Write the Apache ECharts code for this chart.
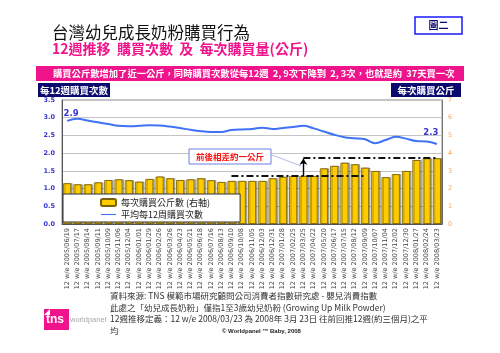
<!DOCTYPE html>
<html>
<head>
<meta charset="utf-8">
<script src="https://cdn.jsdelivr.net/npm/echarts@6/dist/echarts.min.js"></script>
<style>
  html, body { margin: 0; padding: 0; background: #fff; }
  #chart { width: 500px; height: 353px; }
</style>
</head>
<body>
<div id="chart"></div>
<script>
// 12週推移 期間
const categories = [
  '2005/06/19', '2005/07/17', '2005/08/14', '2005/09/11', '2005/10/09', '2005/11/06', '2005/12/04',
  '2006/01/01', '2006/01/29', '2006/02/26', '2006/03/26', '2006/04/23', '2006/05/21', '2006/06/18',
  '2006/07/16', '2006/08/13', '2006/09/10', '2006/10/08', '2006/11/05', '2006/12/03', '2006/12/31',
  '2007/01/28', '2007/02/25', '2007/03/25', '2007/04/22', '2007/05/20', '2007/06/17', '2007/07/15',
  '2007/08/12', '2007/09/09', '2007/10/07', '2007/11/04', '2007/12/02', '2007/12/30', '2008/01/27',
  '2008/02/24', '2008/03/23'
].map(d => '12 w/e ' + d);

// 每次購買公斤數 (右軸)
const kgPerTrip = [
  2.30, 2.24, 2.24, 2.35, 2.48, 2.52, 2.47, 2.39, 2.54, 2.68, 2.58, 2.48, 2.52,
  2.58, 2.47, 2.37, 2.43, 2.43, 2.43, 2.43, 2.58, 2.66, 2.71, 2.71, 2.71, 3.14,
  3.28, 3.46, 3.37, 3.18, 2.99, 2.64, 2.81, 2.99, 3.61, 3.71, 3.71
];

// 平均每12周購買次數 (左軸)
const tripsPer12w = [
  2.91, 2.97, 2.92, 2.87, 2.82, 2.77, 2.76, 2.77, 2.79, 2.78, 2.75, 2.71, 2.66,
  2.62, 2.60, 2.60, 2.65, 2.67, 2.68, 2.72, 2.68, 2.71, 2.74, 2.77, 2.70, 2.61,
  2.52, 2.45, 2.42, 2.39, 2.28, 2.37, 2.46, 2.41, 2.34, 2.33, 2.26
];

const leftTicks = { min: 0, max: 3.5, interval: 0.5 };
const rightTicks = { min: 0, max: 7, interval: 1 };

// 前後平均公斤數
const kgBefore = 2.71;
const kgAfter = 3.74;

const CJK = '"Noto Sans CJK TC", "Noto Sans CJK SC", sans-serif';
const MAGENTA = '#f0148c';
const NAVY = '#0a0a6e';
const LINE_BLUE = '#3f72f5';

const lastIdx = tripsPer12w.length - 1;
const arrowStyle = { type: 'solid', width: 1.4, color: '#000' };

const chart = echarts.init(document.getElementById('chart'));

const option = {
  animation: false,
  textStyle: { fontFamily: CJK },
  grid: { left: 62, right: 58, top: 100, height: 124, show: true, borderColor: '#888', borderWidth: 1, backgroundColor: '#fff' },
  legend: {
    orient: 'vertical',
    left: 63,
    top: 194,
    padding: [4, 30, 3, 37],
    itemGap: 3,
    itemWidth: 15,
    itemHeight: 7,
    backgroundColor: '#fff',
    borderColor: '#333',
    borderWidth: 1,
    textStyle: { fontSize: 9, color: '#222', fontFamily: CJK },
    data: [
      { name: '每次購買公斤數 (右軸)' },
      { name: '平均每12周購買次數', icon: 'path://M0,0L40,0L40,3L0,3Z', itemStyle: { color: LINE_BLUE } }
    ]
  },
  xAxis: {
    type: 'category',
    data: categories,
    axisLine: { lineStyle: { color: '#555' } },
    axisTick: { show: false },
    axisLabel: { interval: 0, rotate: 90, fontSize: 6.5, color: '#444', margin: 4, fontFamily: 'DejaVu Sans' }
  },
  yAxis: [
    {
      type: 'value', ...leftTicks,
      axisLine: { show: true, lineStyle: { color: '#555' } },
      axisTick: { show: false },
      splitLine: { lineStyle: { color: '#c4c4c4' } },
      axisLabel: { fontSize: 6.5, fontWeight: 'bold', color: '#3535d0', margin: 7, formatter: v => v.toFixed(1), fontFamily: 'DejaVu Sans' }
    },
    {
      type: 'value', ...rightTicks,
      axisLine: { show: true, lineStyle: { color: '#777' } },
      axisTick: { show: false },
      splitLine: { show: false },
      axisLabel: { fontSize: 6.5, color: '#f5a860', margin: 6, fontFamily: 'DejaVu Sans' }
    }
  ],
  series: [
    {
      name: '每次購買公斤數 (右軸)',
      type: 'bar',
      yAxisIndex: 1,
      data: kgPerTrip,
      barWidth: '78%',
      itemStyle: { color: '#ffcc00', borderColor: '#7a6200', borderWidth: 0.8, shadowColor: 'rgba(0,0,0,0.3)', shadowOffsetX: 1.5 },
      markLine: {
        silent: true,
        symbol: 'none',
        label: { show: false },
        lineStyle: { color: '#111', width: 2, type: [7, 3, 2, 3] },
        data: [
          [{ coord: [16, kgBefore] }, { coord: [29, kgBefore] }],
          [{ coord: [23, kgAfter] }, { coord: [36, kgAfter] }],
          // 前後差距箭頭
          [
            { coord: [23, kgBefore], symbol: 'none', lineStyle: arrowStyle, itemStyle: { color: '#000' } },
            { coord: [23, kgAfter - 0.05], symbol: 'arrow', symbolSize: 6, lineStyle: arrowStyle, itemStyle: { color: '#000' } }
          ]
        ]
      }
    },
    {
      name: '平均每12周購買次數',
      type: 'line',
      yAxisIndex: 0,
      data: tripsPer12w,
      smooth: 0.4,
      symbol: 'none',
      lineStyle: { color: LINE_BLUE, width: 2 },
      itemStyle: { color: LINE_BLUE },
      markPoint: {
        silent: true,
        symbol: 'circle',
        symbolSize: 0,
        label: {
          show: true,
          color: '#3535d0',
          fontSize: 8.5,
          fontWeight: 'bold',
          fontFamily: 'DejaVu Sans',
          formatter: p => p.value.toFixed(1)
        },
        data: [
          { coord: [0, tripsPer12w[0]], value: tripsPer12w[0], label: { position: 'top', distance: 3, offset: [4, 0] } },
          { coord: [lastIdx, tripsPer12w[lastIdx]], value: tripsPer12w[lastIdx], label: { position: 'top', distance: 7, offset: [-6, 0] } }
        ]
      }
    }
  ],
  graphic: [
    { type: 'text', left: 52, top: 24, style: { text: '台灣幼兒成長奶粉購買行為', fill: '#111', font: '16.5px ' + CJK } },
    { type: 'text', left: 52, top: 42, style: { text: '12週推移  購買次數  及  每次購買量(公斤)', fill: MAGENTA, font: 'bold 14px ' + CJK } },
    { type: 'rect', shape: { x: 415, y: 17, width: 47, height: 17 }, style: { fill: '#fff', stroke: '#1a1aff', lineWidth: 1.5 } },
    { type: 'text', x: 438.5, y: 25.5, style: { text: '圖二', fill: NAVY, font: 'bold 10px ' + CJK, align: 'center', verticalAlign: 'middle' } },
    { type: 'rect', shape: { x: 36, y: 66, width: 428, height: 15 }, style: { fill: MAGENTA } },
    { type: 'text', x: 53, y: 73.5, style: { text: '購買公斤數增加了近一公斤，同時購買次數從每12週  2, 9次下降到  2, 3次，也就是約  37天買一次', fill: '#fff', font: 'bold 9.3px ' + CJK, verticalAlign: 'middle' } },
    { type: 'rect', shape: { x: 38, y: 83, width: 72, height: 14 }, style: { fill: NAVY } },
    { type: 'text', x: 74, y: 90, style: { text: '每12週購買次數', fill: '#fff', font: 'bold 9.5px ' + CJK, align: 'center', verticalAlign: 'middle' } },
    { type: 'rect', shape: { x: 391, y: 83, width: 70, height: 14 }, style: { fill: NAVY } },
    { type: 'text', x: 426, y: 90, style: { text: '每次購買公斤', fill: '#fff', font: 'bold 9.5px ' + CJK, align: 'center', verticalAlign: 'middle' } },
    // 註解
    { type: 'line', shape: { x1: 272, y1: 155, x2: 301, y2: 166 }, style: { stroke: '#9aa8e8', lineWidth: 0.8 }, z: 10 },
    { type: 'rect', shape: { x: 189, y: 149, width: 82, height: 15 }, style: { fill: '#fff', stroke: '#6f7fe0', lineWidth: 1 }, z: 10 },
    { type: 'text', x: 230, y: 156.5, style: { text: '前後相差約一公斤', fill: '#ff1010', font: 'bold 8.5px ' + CJK, align: 'center', verticalAlign: 'middle' }, z: 11 },
    // 資料來源
    { type: 'text', x: 110, y: 292, style: { text: '資料來源: TNS 模範市場研究顧問公司消費者指數研究處 - 嬰兒消費指數', fill: '#333', font: '8.5px ' + CJK } },
    { type: 'text', x: 110, y: 303.5, style: { text: '此處之「幼兒成長奶粉」僅指1至3歲幼兒奶粉 (Growing Up Milk Powder)', fill: '#333', font: '8.5px ' + CJK } },
    { type: 'text', x: 110, y: 315, style: { text: '12週推移定義：12 w/e 2008/03/23 為 2008年 3月 23日 往前回推12週(約三個月)之平', fill: '#333', font: '8.5px ' + CJK } },
    { type: 'text', x: 110, y: 326.5, style: { text: '均', fill: '#333', font: '8.5px ' + CJK } },
    { type: 'text', x: 222, y: 328, style: { text: '© Worldpanel ™ Baby, 2008', fill: '#222', font: 'bold 6px "Liberation Sans", sans-serif' } },
    // logo
    { type: 'rect', shape: { x: 44, y: 309, width: 25, height: 21 }, style: { fill: MAGENTA } },
    { type: 'polygon', shape: { points: [[44, 315], [50, 309], [50, 315]] }, style: { fill: '#fff' } },
    { type: 'text', x: 46, y: 320, style: { text: 'tns', fill: '#fff', font: 'bold 12px "Liberation Sans", sans-serif', verticalAlign: 'middle' } },
    { type: 'text', x: 70, y: 320, style: { text: 'worldpanel', fill: '#aaa', font: '7.5px "Liberation Sans", sans-serif', verticalAlign: 'middle' } }
  ]
};

chart.setOption(option);
</script>
</body>
</html>
